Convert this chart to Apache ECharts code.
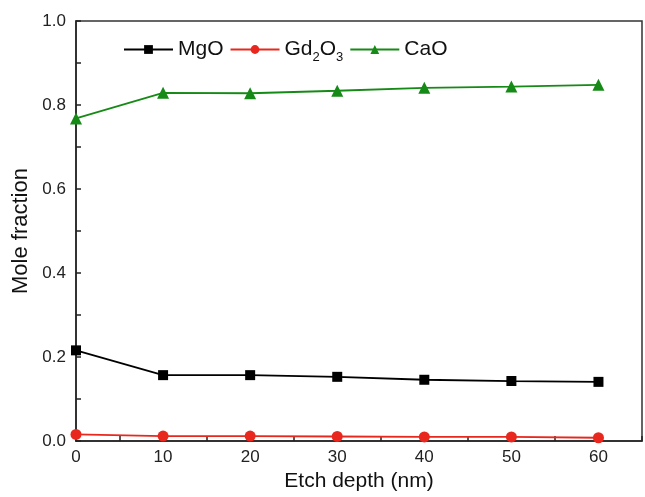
<!DOCTYPE html>
<html>
<head>
    <meta charset="utf-8">
    <title>Mole fraction</title>
    <script src="https://cdn.jsdelivr.net/npm/echarts@6/dist/echarts.min.js"></script>
    <style>
        body { margin: 0; background: #fff; }
    </style>
</head>
<body>
    <div id="main" style="width: 645px;height:497px;"></div>
    <script type="text/javascript">
        // etch depth (nm)
        var depth = [0, 10, 20, 30, 40, 50, 60];
        var mgo = [0.216, 0.157, 0.157, 0.153, 0.146, 0.143, 0.141];
        var gd2o3 = [0.016, 0.012, 0.012, 0.011, 0.010, 0.010, 0.008];
        var cao = [0.768, 0.829, 0.828, 0.834, 0.841, 0.844, 0.848];

        function pairs(ys) {
            var out = [];
            for (var i = 0; i < depth.length; i++) {
                out.push([depth[i], ys[i]]);
            }
            return out;
        }

        var myChart = echarts.init(document.getElementById('main'));
        var fontFam = 'Liberation Sans, Arial, sans-serif';

        var option = {
            animation: false,
            backgroundColor: '#fff',
            grid: {
                left: 76, right: 1, top: 21, bottom: 53,
                show: true,
                borderColor: '#333',
                borderWidth: 1.5
            },
            legend: {
                left: 118, top: 34,
                itemWidth: 49, itemHeight: 11, itemGap: 6,
                data: ['MgO', 'Gd2O3', 'CaO'],
                formatter: function (name) {
                    if (name === 'Gd2O3') return 'Gd{sub|2}O{sub|3}';
                    return name;
                },
                textStyle: {
                    fontFamily: fontFam, fontSize: 21, color: '#111',
                    rich: {
                        sub: { fontSize: 13, fontFamily: fontFam, color: '#111', padding: [16, 0, 0, 0] }
                    }
                }
            },
            xAxis: {
                type: 'value',
                min: 0, max: 65, interval: 10,
                name: 'Etch depth (nm)',
                nameLocation: 'middle',
                nameGap: 29,
                nameTextStyle: { fontFamily: fontFam, fontSize: 21, color: '#111' },
                axisLine: { lineStyle: { color: '#222', width: 1.5 } },
                axisTick: { inside: true, length: 5, lineStyle: { color: '#222', width: 1.5 } },
                minorTick: { show: true, splitNumber: 2, length: 5, lineStyle: { color: '#222', width: 1.5 } },
                splitLine: { show: false },
                axisLabel: {
                    fontFamily: fontFam, fontSize: 17, color: '#222', margin: 8,
                    formatter: function (v) { return v > 60 ? '' : v; }
                }
            },
            yAxis: {
                type: 'value',
                min: 0, max: 1, interval: 0.2,
                name: 'Mole fraction',
                nameLocation: 'middle',
                nameGap: 37,
                nameTextStyle: { fontFamily: fontFam, fontSize: 22, color: '#111' },
                axisLine: { lineStyle: { color: '#222', width: 1.5 } },
                axisTick: { inside: true, length: 5, lineStyle: { color: '#222', width: 1.5 } },
                minorTick: { show: true, splitNumber: 2, length: 5, lineStyle: { color: '#222', width: 1.5 } },
                splitLine: { show: false },
                axisLabel: {
                    fontFamily: fontFam, fontSize: 17, color: '#222', margin: 10,
                    formatter: function (v) { return v.toFixed(1); }
                }
            },
            series: [
                {
                    name: 'MgO', type: 'line', data: pairs(mgo),
                    symbol: 'rect', symbolSize: 10,
                    lineStyle: { color: '#000', width: 1.8 },
                    itemStyle: { color: '#000' }
                },
                {
                    name: 'Gd2O3', type: 'line', data: pairs(gd2o3),
                    symbol: 'circle', symbolSize: 11,
                    lineStyle: { color: '#e8281e', width: 1.8 },
                    itemStyle: { color: '#e8281e' }
                },
                {
                    name: 'CaO', type: 'line', data: pairs(cao),
                    symbol: 'triangle', symbolSize: 12,
                    lineStyle: { color: '#168a16', width: 1.8 },
                    itemStyle: { color: '#168a16' }
                }
            ]
        };

        myChart.setOption(option);

        window.addEventListener("resize", function(){
            myChart.resize();
        });
    </script>
</body>
</html>
